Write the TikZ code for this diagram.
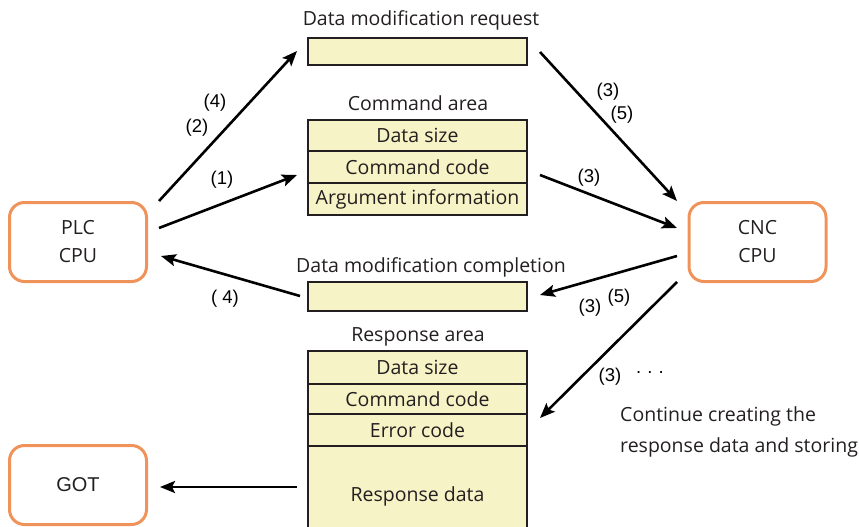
\documentclass[tikz,border=0pt]{standalone}
\usepackage{fontspec}
\setmainfont{Open Sans}
\newfontfamily\numfont{Liberation Sans}
\usetikzlibrary{arrows.meta}
\definecolor{cellfill}{HTML}{F6F3C6}
\definecolor{orng}{HTML}{F0935A}
\definecolor{txt}{HTML}{231F20}
\tikzset{
  cell/.style={draw=txt, fill=cellfill, line width=1.1pt, minimum width=219pt, inner sep=0pt, font=\fontsize{19.5}{22}\selectfont, text=txt},
  ttl/.style={font=\fontsize{19.5}{22}\selectfont, text=txt, inner sep=0pt},
  proc/.style={draw=orng, line width=3pt, rounded corners=15pt, minimum width=137pt, minimum height=79pt, align=center, font=\fontsize{19.5}{28}\selectfont, text=txt, inner sep=0pt},
  lbl/.style={font=\numfont\fontsize{18.5}{20}\selectfont, inner sep=0pt},
  conn/.style={line width=2.6pt, -{Stealth[length=15pt,width=12pt,inset=3pt]}},
}
\begin{document}
\begin{tikzpicture}[x=1pt,y=-1pt]
\useasboundingbox (0,0) rectangle (859,527);
% process boxes
\node[proc] (plc) at (78,242) {PLC\\CPU};
\node[proc] (cnc) at (757.5,242) {CNC\\CPU};
\node[proc, font=\numfont\fontsize{20}{22}\selectfont] (got) at (78,485) {GOT};
% data modification request
\node[ttl] (reqt) at (421,20) {Data modification request};
\node[cell, minimum height=27pt] (req) at (417.5,51.5) {};
% command area
\node[ttl] (cmdt) at (418,103) {Command area};
\node[cell, minimum height=31pt] (c1) at (417.5,135.5) {Data size};
\node[cell, minimum height=32pt] (c2) at (417.5,167) {Command code};
\node[cell, minimum height=32pt] (c3) at (417.5,199) {Argument information};
% data modification completion
\node[ttl] (compt) at (431,267) {Data modification completion};
\node[cell, minimum height=29pt] (comp) at (417.5,296.5) {};
% response area
\node[ttl] (rest) at (418,337) {Response area};
\node[cell, minimum height=33pt] (r1) at (417.5,367.5) {Data size};
\node[cell, minimum height=30pt] (r2) at (417.5,399) {Command code};
\node[cell, minimum height=32pt] (r3) at (417.5,430) {Error code};
\node[cell, minimum height=100pt] (r4) at (417.5,496) {Response data};
% connector end points
\coordinate (a1s) at (159,201);  \coordinate (a1e) at (297,51);
\coordinate (a2s) at (159,228);  \coordinate (a2e) at (297,175);
\coordinate (a3s) at (300,296);  \coordinate (a3e) at (161,256);
\coordinate (a4s) at (540,52);   \coordinate (a4e) at (677,201);
\coordinate (a5s) at (540,175);  \coordinate (a5e) at (677,228);
\coordinate (a6s) at (677,256);  \coordinate (a6e) at (540,295);
\coordinate (a7s) at (677,282);  \coordinate (a7e) at (540,418);
\coordinate (a8s) at (297,487);  \coordinate (a8e) at (160,487);
\draw[conn] (a1s) -- (a1e);
\draw[conn] (a2s) -- (a2e);
\draw[conn] (a3s) -- (a3e);
\draw[conn] (a4s) -- (a4e);
\draw[conn] (a5s) -- (a5e);
\draw[conn] (a6s) -- (a6e);
\draw[conn] (a7s) -- (a7e);
\draw[conn] (a8s) -- (a8e);
% labels
\node[lbl] (l1) at (215,103) {(4)};
\node[lbl] (l2) at (197,128) {(2)};
\node[lbl] (l3) at (222,180) {(1)};
\node[lbl] (l4) at (225,299) {( 4)};
\node[lbl] (l5) at (608,92) {(3)};
\node[lbl] (l6) at (622,115) {(5)};
\node[lbl] (l7) at (589,178) {(3)};
\node[lbl] (l8) at (590,308) {(3)};
\node[lbl] (l9) at (619,298) {(5)};
\node[lbl] (l10) at (610,377) {(3)};
\node[lbl] (l11) at (650,374) {· · ·};
\node[ttl, anchor=west, align=left, font=\fontsize{19.5}{31}\selectfont] (note) at (620,431.5) {Continue creating the\\response data and storing};
\end{tikzpicture}
\end{document}
